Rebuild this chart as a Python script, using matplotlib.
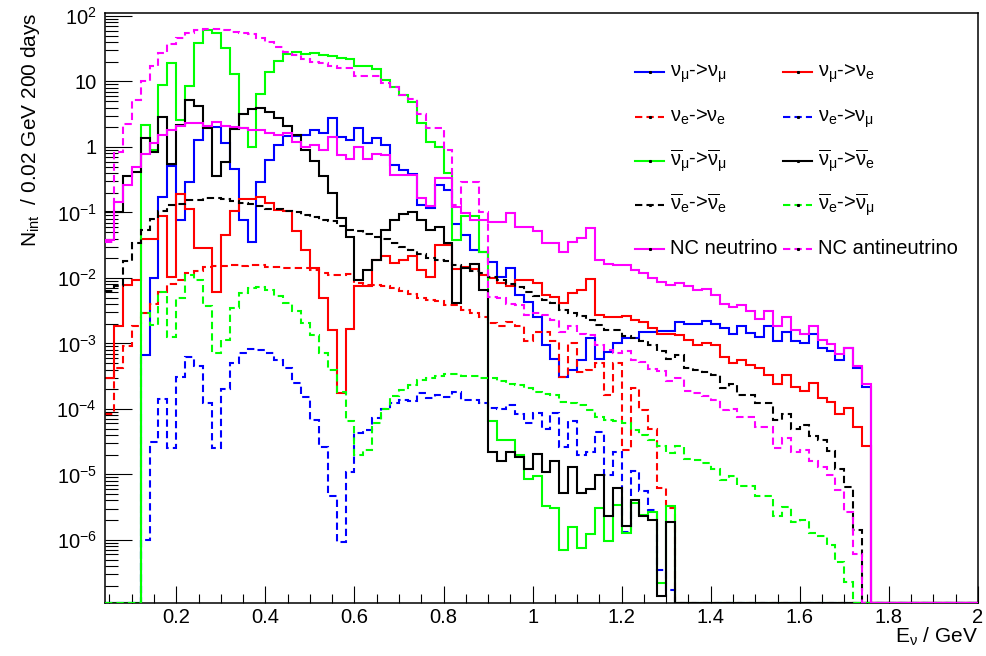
"""
Interaction spectra per 0.02 GeV bin, 200 days - ROOT-style log histogram
"""

import numpy as np
import matplotlib
matplotlib.use('Agg')
import matplotlib.pyplot as plt
from matplotlib.lines import Line2D
from matplotlib.ticker import FixedLocator, FixedFormatter, NullFormatter

plt.rcParams['font.family'] = ['Liberation Sans', 'DejaVu Sans']
plt.rcParams['mathtext.fontset'] = 'custom'
plt.rcParams['mathtext.rm'] = 'Liberation Sans'
plt.rcParams['mathtext.it'] = 'Liberation Sans'
plt.rcParams['mathtext.bf'] = 'Liberation Sans:bold'

# ════════════════════════════════════════════════════════════════════════════════
# binning: 0.02 GeV bins from 0.04 GeV
# data: log10(N_int) per bin; None = empty bin
# ════════════════════════════════════════════════════════════════════════════════
BIN_LO = 0.04
BIN_W = 0.02
N_BINS = 98
Y_MIN, Y_MAX = 1.1e-7, 1.1e2

numu_numu = [
    None, None, None, None, -3.18, -2.00, -0.76, -0.29, -1.11, -0.53,
    0.11, 0.31, 0.31, 0.06, -0.33, -1.11, -1.45, -0.53, -0.20, 0.03,
    0.17, 0.17, 0.18, 0.26, 0.22, 0.45, 0.16, 0.10, 0.29, 0.06,
    0.14, 0.03, -0.27, -0.35, -0.41, -0.89, -0.93, -0.58, -0.66, -1.17,
    -1.34, -1.57, -1.60, -1.75, -1.98, -1.85, -2.26, -2.36, -2.59, -3.02,
    -3.23, -3.51, -3.40, -3.25, -2.92, -3.23, -3.13, -2.99, -2.92, -2.92,
    -2.82, -2.82, -2.81, -2.81, -2.68, -2.70, -2.70, -2.65, -2.70, -2.77,
    -2.85, -2.74, -2.84, -2.90, -2.74, -2.97, -2.82, -2.97, -3.00, -2.85,
    -3.07, -3.11, -3.25, -3.07, -3.38, -3.66,
]
numu_nue = [
    -3.53, -2.73, -2.11, -2.03, -1.41, -1.41, -1.05, -1.98, -0.72, -0.94,
    -1.55, -1.55, -2.21, -1.34, -0.98, -0.80, -0.80, -0.76, -0.85, -0.96,
    -0.98, -1.29, -1.58, -1.85, -2.30, -2.80, -3.76, -2.78, -2.12, -2.12,
    -1.73, -1.66, -1.77, -1.73, -1.67, -1.88, -1.98, -1.50, -1.50, -1.87,
    -1.83, -1.87, -1.95, -2.00, -2.08, -2.12, -2.03, -2.03, -2.08, -2.26,
    -2.29, -2.38, -2.23, -2.18, -2.02, -2.56, -2.59, -2.59, -2.58, -2.64,
    -2.67, -2.77, -2.85, -2.85, -2.87, -2.95, -3.02, -3.00, -3.02, -3.20,
    -3.30, -3.25, -3.33, -3.38, -3.48, -3.62, -3.48, -3.66, -3.72, -3.61,
    -3.84, -3.90, -4.08, -3.98, -4.27, -4.56,
]
nue_nue = [
    -4.07, -3.38, -3.04, -2.74, -2.54, -2.40, -2.21, -2.09, -2.03, -1.93,
    -1.89, -1.83, -1.82, -1.82, -1.80, -1.82, -1.80, -1.80, -1.84, -1.84,
    -1.85, -1.85, -1.85, -1.88, -1.92, -1.96, -1.96, -1.94, -2.08, -2.11,
    -2.10, -2.13, -2.15, -2.20, -2.24, -2.30, -2.33, -2.35, -2.41, -2.41,
    -2.49, -2.54, -2.59, -2.69, -2.73, -2.67, -2.74, -2.97, -2.82, -2.82,
    -2.97, -3.51, -3.00, -3.43, -3.40, -3.30, -3.79, -3.30, -4.63, -3.68,
    -4.02, -4.31, -5.21, -5.52,
]
nue_numu = [
    None, None, None, None, -6.00, -4.50, -3.85, -4.59, -3.51, -3.20,
    -3.35, -3.91, -4.60, -3.70, -3.30, -3.14, -3.09, -3.10, -3.15, -3.25,
    -3.38, -3.61, -3.81, -4.17, -4.58, -5.33, -6.03, -4.96, -4.37, -4.32,
    -4.14, -4.00, -3.91, -3.87, -3.88, -3.76, -3.84, -3.79, -3.82, -3.74,
    -3.87, -3.87, -3.91, -3.99, -4.00, -3.94, -4.07, -4.22, -4.06, -4.31,
    -4.06, -4.58, -4.19, -4.70, -4.65, -4.35, -5.01, -4.65, -5.88, -4.94,
    -5.26, -5.54, -6.46, -6.76,
]
anumu_anumu = [
    None, None, None, None, 0.34, -0.05, 0.95, 1.29, 0.41, 0.93,
    1.59, 1.78, 1.74, 1.51, 1.11, 0.29, 0.00, 0.81, 1.15, 1.31,
    1.42, 1.45, 1.42, 1.43, 1.40, 1.39, 1.36, 1.35, 1.23, 1.23,
    1.19, 1.02, 0.92, 0.79, 0.68, 0.37, 0.08, 0.00, -0.39, -1.42,
    -1.06, -1.06, -1.60, -4.19, -4.47, -4.47, -4.70, -5.07, -5.02, -5.48,
    -5.52, -6.16, -5.80, -6.12, -5.91, -5.52, -6.01, -5.47, -5.90, -5.44,
    -5.62, -5.58, -6.66, -5.48,
]
anumu_anue = [
    -1.00, -1.00, -0.44, -0.38, 0.13, -0.07, 0.46, -0.26, 0.34, 0.72,
    0.63, 0.29, -0.44, -0.23, 0.27, 0.50, 0.58, 0.59, 0.54, 0.44,
    0.32, 0.18, -0.05, -0.22, -0.45, -0.71, -1.09, -1.37, -2.03, -1.88,
    -1.73, -1.27, -1.11, -1.03, -0.99, -1.11, -1.26, -1.22, -1.46, -2.38,
    -1.85, -1.78, -2.18, -4.65, -4.79, -4.65, -4.73, -4.92, -4.69, -4.96,
    -4.80, -5.28, -4.88, -5.29, -5.23, -5.01, -5.63, -5.21, -5.78, -5.39,
    -5.64, -5.69, -6.85, -5.72,
]
anue_anue = [
    -2.20, -2.13, -1.74, -1.47, -1.26, -1.10, -0.97, -0.89, -0.87, -0.81,
    -0.81, -0.78, -0.78, -0.79, -0.82, -0.85, -0.87, -0.90, -0.94, -0.95,
    -0.97, -1.00, -1.04, -1.07, -1.11, -1.13, -1.21, -1.27, -1.29, -1.33,
    -1.37, -1.41, -1.46, -1.52, -1.57, -1.63, -1.69, -1.72, -1.74, -1.80,
    -1.85, -1.90, -1.93, -1.99, -2.03, -2.09, -2.14, -2.21, -2.27, -2.33,
    -2.38, -2.49, -2.54, -2.58, -2.64, -2.72, -2.79, -2.79, -2.88, -2.92,
    -2.97, -3.03, -3.12, -3.24, -3.18, -3.38, -3.40, -3.43, -3.48, -3.68,
    -3.62, -3.78, -3.78, -3.91, -3.91, -4.17, -4.07, -4.30, -4.24, -4.42,
    -4.48, -4.64, -4.91, -5.19, -5.85,
]
anue_anumu = [
    None, None, None, None, -2.54, -2.72, -2.21, -2.90, -2.30, -1.95,
    -2.03, -2.43, -3.15, -2.95, -2.46, -2.23, -2.16, -2.14, -2.18, -2.27,
    -2.38, -2.51, -2.69, -2.87, -3.15, -3.40, -3.74, -4.19, -4.70, -4.63,
    -4.21, -4.00, -3.80, -3.71, -3.63, -3.56, -3.52, -3.50, -3.47, -3.47,
    -3.50, -3.50, -3.52, -3.53, -3.58, -3.62, -3.63, -3.68, -3.74, -3.77,
    -3.79, -3.90, -3.91, -3.94, -4.02, -4.12, -4.17, -4.19, -4.22, -4.32,
    -4.40, -4.47, -4.56, -4.68, -4.56, -4.76, -4.78, -4.82, -4.92, -5.08,
    -5.03, -5.18, -5.18, -5.33, -5.33, -5.64, -5.49, -5.72, -5.69, -5.90,
    -5.94, -6.08, -6.33, -6.64,
]
nc_nu = [
    -1.42, -0.84, -0.58, -0.30, -0.10, 0.06, 0.18, 0.26, 0.32, 0.37,
    0.36, 0.32, 0.38, 0.32, 0.31, 0.29, 0.26, 0.26, 0.22, 0.18,
    0.21, 0.08, 0.00, 0.03, -0.05, 0.16, -0.12, -0.19, 0.00, -0.19,
    -0.10, -0.12, -0.43, -0.43, -0.43, -0.78, -0.90, -0.48, -0.48, -0.91,
    -1.01, -1.11, -1.11, -1.14, -1.14, -1.01, -1.22, -1.22, -1.29, -1.47,
    -1.47, -1.60, -1.45, -1.39, -1.23, -1.73, -1.78, -1.80, -1.80, -1.88,
    -1.93, -2.00, -2.06, -2.11, -2.08, -2.13, -2.18, -2.17, -2.26, -2.40,
    -2.45, -2.41, -2.51, -2.63, -2.51, -2.74, -2.60, -2.79, -2.85, -2.73,
    -2.95, -3.01, -3.16, -3.07, -3.35, -3.62,
]
nc_antinu = [
    -1.45, -0.08, 0.35, 0.72, 1.00, 1.23, 1.43, 1.58, 1.67, 1.74,
    1.78, 1.80, 1.80, 1.79, 1.76, 1.74, 1.73, 1.67, 1.61, 1.53,
    1.45, 1.40, 1.34, 1.30, 1.28, 1.24, 1.20, 1.20, 1.08, 1.09,
    1.09, 0.98, 0.91, 0.79, 0.74, 0.51, 0.29, 0.29, -0.05, -0.89,
    -0.53, -0.53, -0.99, -2.29, -2.31, -2.39, -2.41, -2.56, -2.54, -2.56,
    -2.64, -2.82, -2.74, -2.85, -2.87, -3.02, -3.10, -3.15, -3.11, -3.25,
    -3.29, -3.39, -3.42, -3.57, -3.53, -3.72, -3.76, -3.80, -3.86, -4.02,
    -4.00, -4.12, -4.13, -4.27, -4.27, -4.60, -4.45, -4.65, -4.63, -4.80,
    -4.88, -5.01, -5.24, -5.57, -6.21,
]

SERIES = [
    (numu_numu,   r'$\nu_{\mu}$->$\nu_{\mu}$', '#0000ff', 'solid'),
    (numu_nue,    r'$\nu_{\mu}$->$\nu_{e}$', '#ff0000', 'solid'),
    (nue_nue,     r'$\nu_{e}$->$\nu_{e}$', '#ff0000', 'dashed'),
    (nue_numu,    r'$\nu_{e}$->$\nu_{\mu}$', '#0000ff', 'dashed'),
    (anumu_anumu, r'$\overline{\nu}_{\mu}$->$\overline{\nu}_{\mu}$', '#00ff00', 'solid'),
    (anumu_anue,  r'$\overline{\nu}_{\mu}$->$\overline{\nu}_{e}$', '#000000', 'solid'),
    (anue_anue,   r'$\overline{\nu}_{e}$->$\overline{\nu}_{e}$', '#000000', 'dashed'),
    (anue_anumu,  r'$\overline{\nu}_{e}$->$\overline{\nu}_{\mu}$', '#00ff00', 'dashed'),
    (nc_nu,       'NC neutrino', '#ff00ff', 'solid'),
    (nc_antinu,   'NC antineutrino', '#ff00ff', 'dashed'),
]

FIG_W, FIG_H = 986, 656
DASH = (0, (3.5, 2.0))
FS_TICK = 14.5
FS_TITLE = 15
FS_LEG = 14.5


def to_counts(log_values):
    # empty bins sit on the bottom of the frame, as ROOT draws them
    padded = list(log_values) + [None] * (N_BINS - len(log_values))
    return np.array([Y_MIN if v is None else 10.0 ** v for v in padded])


def fx(px):
    return px / FIG_W


def fy(py):
    return 1.0 - py / FIG_H


def main():
    fig = plt.figure(figsize=(FIG_W / 100, FIG_H / 100), dpi=100)
    ax = fig.add_axes([fx(105), fy(602.7), fx(978) - fx(105), fy(13.3) - fy(602.7)])

    edges = BIN_LO + BIN_W * np.arange(N_BINS + 1)
    for z, (values, _, color, style) in enumerate(SERIES):
        ls = DASH if style == 'dashed' else 'solid'
        ax.stairs(to_counts(values), edges, baseline=None, color=color,
                  lw=1.5, linestyle=ls, zorder=2 + z * 0.1)

    ax.set_yscale('log')
    ax.set_xlim(0.04, 2.0)
    ax.set_ylim(Y_MIN, Y_MAX)

    # ── ticks (ROOT style: inside, left/bottom only) ──
    decades = [1e-6, 1e-5, 1e-4, 1e-3, 1e-2, 1e-1, 1, 10, 100]
    dec_labels = [r'$10^{-6}$', r'$10^{-5}$', r'$10^{-4}$', r'$10^{-3}$',
                  r'$10^{-2}$', r'$10^{-1}$', '1', '10', r'$10^{2}$']
    ax.yaxis.set_major_locator(FixedLocator(decades))
    ax.yaxis.set_major_formatter(FixedFormatter(dec_labels))
    minors = [m * 10.0 ** e for e in range(-7, 2) for m in range(2, 10)]
    ax.yaxis.set_minor_locator(FixedLocator(minors))
    ax.yaxis.set_minor_formatter(NullFormatter())

    xt = [0.2, 0.4, 0.6, 0.8, 1.0, 1.2, 1.4, 1.6, 1.8, 2.0]
    ax.xaxis.set_major_locator(FixedLocator(xt))
    ax.xaxis.set_major_formatter(FixedFormatter(['0.2', '0.4', '0.6', '0.8', '1',
                                                 '1.2', '1.4', '1.6', '1.8', '2']))
    ax.xaxis.set_minor_locator(FixedLocator(np.arange(0.05, 2.001, 0.05)))

    ax.tick_params(which='both', direction='in', top=False, right=False,
                   labelsize=FS_TICK, width=0.8, color='black')
    ax.tick_params(axis='y', which='major', length=19.5, pad=6)
    ax.tick_params(axis='y', which='minor', length=9.5)
    ax.tick_params(axis='x', which='major', length=12, pad=4)
    ax.tick_params(axis='x', which='minor', length=6.5)
    for sp in ax.spines.values():
        sp.set_linewidth(1.1)

    # ── axis titles ──
    fig.text(fx(31), fy(13), r'N$_{\rm int}$  / 0.02 GeV 200 days', rotation=90,
             ha='center', va='top', fontsize=FS_TITLE)
    fig.text(fx(978), fy(637), r'E$_{\nu}$ / GeV', ha='right', va='center',
             fontsize=FS_TITLE)

    # ── legend, two columns ──
    row_y = [72, 117, 161, 205, 249]
    col_x = [(635, 664, 670), (783, 812, 818)]
    for i, (_, label, color, style) in enumerate(SERIES):
        row, col = divmod(i, 2)
        x0, x1, xt_ = col_x[col]
        y = row_y[row]
        ls = DASH if style == 'dashed' else 'solid'
        fig.add_artist(Line2D([fx(x0), fx(x1)], [fy(y), fy(y)], color=color,
                              lw=1.5, linestyle=ls))
        fig.add_artist(Line2D([fx((x0 + x1) / 2)], [fy(y)], color='black',
                              marker='s', markersize=1.2, lw=0))
        fig.text(fx(xt_), fy(y + 5), label, ha='left', va='baseline', fontsize=FS_LEG)

    fig.savefig('out.png', dpi=100)
    plt.close(fig)


if __name__ == "__main__":
    main()
